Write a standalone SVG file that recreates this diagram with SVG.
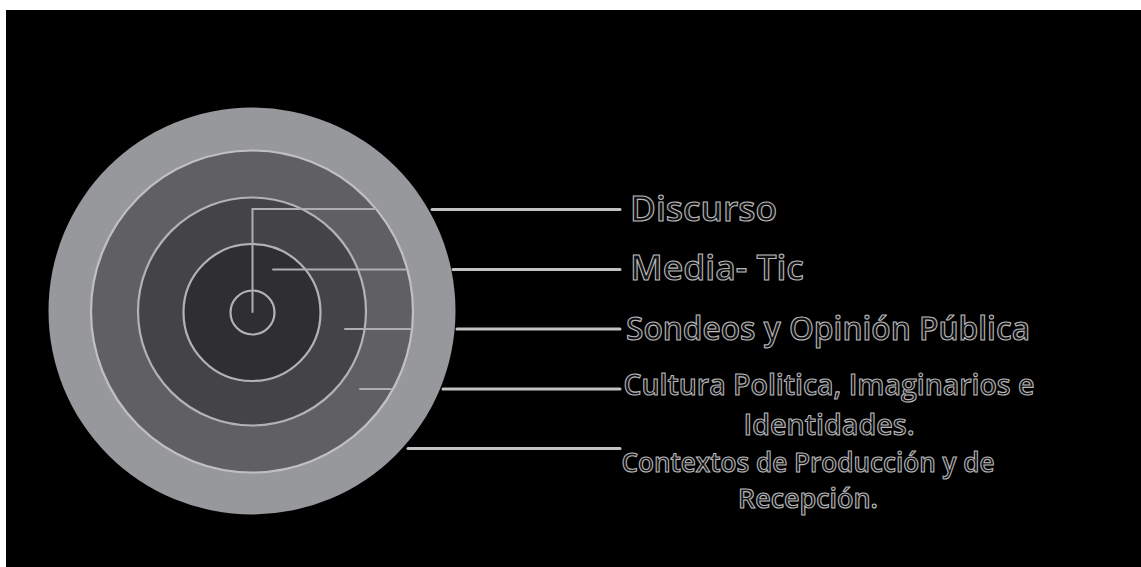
<svg xmlns="http://www.w3.org/2000/svg" width="1141" height="567" viewBox="0 0 1141 567">
  <style>
    .ring { stroke: #b3b3b6; stroke-width: 2.2; }
    .inner { stroke: #aeaeb1; stroke-width: 2; fill: none; stroke-linecap: round; }
    .outer { stroke: #c2c2c4; stroke-width: 3; fill: none; stroke-linecap: round; }
    .lbl { font-family: "Open Sans", "Noto Sans", sans-serif; font-weight: 600; fill: #121212; stroke: #b9b9bc; stroke-width: 1.1; }
  </style>
  <rect x="0" y="0" width="1141" height="567" fill="#ffffff"/>
  <rect x="6" y="10" width="1135" height="557" fill="#000000"/>

  <g id="target">
    <circle cx="252" cy="311" r="203.5" fill="#97989c"/>
    <circle cx="252" cy="311.5" r="161" fill="#606064" stroke="#c0c0c3" stroke-width="2.2"/>
    <circle class="ring" cx="252" cy="311.5" r="114" fill="#444448"/>
    <circle class="ring" cx="252" cy="312.5" r="68.5" fill="#2f2e31"/>
    <circle class="ring" cx="252.5" cy="312.5" r="22" fill="#2f2e31"/>
  </g>

  <g id="connectors">
    <polyline class="inner" points="252.5,312 252.5,209 376,209"/>
    <line class="inner" x1="273" y1="269.5" x2="406" y2="269.5"/>
    <line class="inner" x1="345" y1="329" x2="411" y2="329"/>
    <line class="inner" x1="360" y1="389" x2="391" y2="389"/>
    <line class="outer" x1="432" y1="209.5" x2="620" y2="209.5"/>
    <line class="outer" x1="453" y1="269.5" x2="620" y2="269.5"/>
    <line class="outer" x1="457" y1="329" x2="620" y2="329"/>
    <line class="outer" x1="443" y1="389" x2="620" y2="389"/>
    <line class="outer" x1="408" y1="448.5" x2="620" y2="448.5"/>
  </g>

  <g id="label-discurso">
    <text class="lbl" x="630" y="221" font-size="35" textLength="147" lengthAdjust="spacingAndGlyphs">Discurso</text>
  </g>
  <g id="label-media">
    <text class="lbl" x="630" y="280" font-size="35" textLength="174" lengthAdjust="spacingAndGlyphs">Media- Tic</text>
  </g>
  <g id="label-sondeos">
    <text class="lbl" x="626" y="340" font-size="32" textLength="404" lengthAdjust="spacingAndGlyphs">Sondeos y Opinión Pública</text>
  </g>
  <g id="label-cultura">
    <text class="lbl" x="829" y="395" font-size="29.5" text-anchor="middle" textLength="411" lengthAdjust="spacingAndGlyphs">Cultura Politica, Imaginarios e</text>
    <text class="lbl" x="829" y="435" font-size="29.5" text-anchor="middle" textLength="171" lengthAdjust="spacingAndGlyphs">Identidades.</text>
  </g>
  <g id="label-contextos">
    <text class="lbl" x="808" y="472" font-size="27" text-anchor="middle" textLength="373" lengthAdjust="spacingAndGlyphs">Contextos de Producción y de</text>
    <text class="lbl" x="808" y="508" font-size="27" text-anchor="middle" textLength="140" lengthAdjust="spacingAndGlyphs">Recepción.</text>
  </g>
</svg>
